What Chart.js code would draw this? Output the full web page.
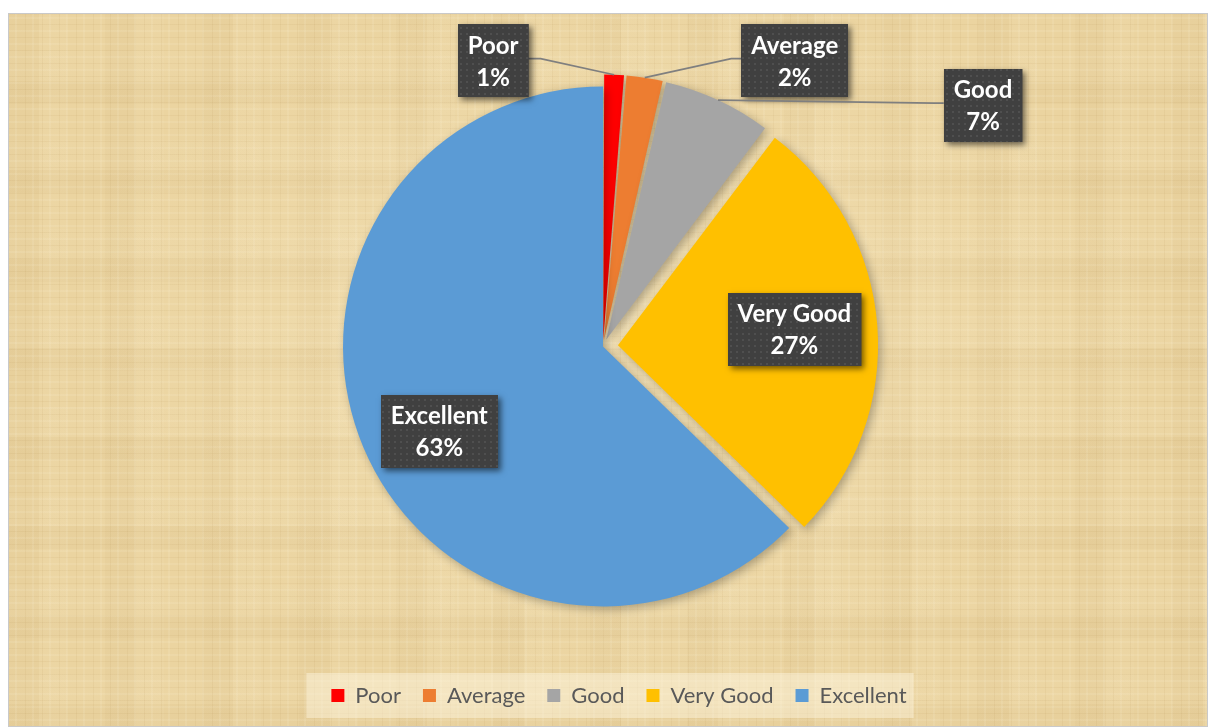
<!DOCTYPE html>
<html>
<head>
<meta charset="utf-8">
<script src="https://cdn.jsdelivr.net/npm/chart.js@4.4.0/dist/chart.umd.min.js"></script>
<style>
  html, body { margin: 0; padding: 0; background: #fff; }
  #frame {
    position: absolute; left: 8px; top: 13px; width: 1200px; height: 714px;
    background-color: #ebd4a0;
    background-image:
      radial-gradient(ellipse at 50% 45%, rgba(255,244,214,0.30), rgba(255,244,214,0) 65%),
      repeating-linear-gradient(90deg, rgba(160,120,55,0.07) 0 1px, rgba(0,0,0,0) 1px 7px, rgba(255,250,230,0.10) 7px 9px, rgba(0,0,0,0) 9px 17px),
      repeating-linear-gradient(0deg, rgba(160,120,55,0.07) 0 1px, rgba(0,0,0,0) 1px 6px, rgba(255,250,230,0.10) 6px 8px, rgba(0,0,0,0) 8px 13px),
      repeating-linear-gradient(90deg, rgba(150,110,50,0.035) 0 31px, rgba(255,250,230,0.045) 31px 59px, rgba(0,0,0,0) 59px 97px),
      repeating-linear-gradient(0deg, rgba(150,110,50,0.035) 0 23px, rgba(255,250,230,0.045) 23px 53px, rgba(0,0,0,0) 53px 89px);
    box-shadow: inset 0 0 0 1px #c9c9c9;
  }
  #frame canvas { display: block; }
</style>
</head>
<body>
<div id="frame"><canvas id="ratings" width="1200" height="714"></canvas></div>
<script>
const categories = ['Poor', 'Average', 'Good', 'Very Good', 'Excellent']
const shares = [1.3, 2.3, 6.7, 27.0, 62.7]
const sliceColors = ['#ff0000', '#ed7d31', '#a5a5a5', '#ffc000', '#5b9bd5']
// chart.js scales arc offsets down (offset/4, more for thin slices)
const sliceOffsets = [25, 26, 30, 60, 0]

// little dotted texture for the label boxes
const tile = document.createElement('canvas')
tile.width = 6; tile.height = 6
const tctx = tile.getContext('2d')
tctx.fillStyle = 'rgba(255,255,255,0.08)'
tctx.fillRect(2, 2, 2, 2)

// same shift that ArcElement.draw applies
function arcShift(offset, circumference) {
    const fix = 1 - Math.sin(Math.min(Math.PI, circumference || 0))
    return offset / 4 * (1 + fix)
}

const pieShadow = {
    id: 'pieShadow',
    beforeDatasetDraw(chart) {
        const ctx = chart.ctx
        ctx.save()
        ctx.shadowColor = 'rgba(0,0,0,0.28)'
        ctx.shadowBlur = 10
        ctx.shadowOffsetX = 3
        ctx.shadowOffsetY = 3
    },
    afterDatasetDraw(chart) {
        chart.ctx.restore()
    }
}

const legendBack = {
    id: 'legendBack',
    afterLayout(chart) {
        // legend sits a bit right of the pie centre
        chart.legend.left += 16
        chart.legend.right += 16
    },
    beforeDraw(chart) {
        const boxes = chart.legend.legendHitBoxes
        if (!boxes || !boxes.length) return
        const ctx = chart.ctx
        const left = Math.min(...boxes.map(b => b.left)) - 25
        const right = Math.max(...boxes.map(b => b.left + b.width)) + 7
        const mid = boxes[0].top + boxes[0].height / 2
        ctx.save()
        ctx.fillStyle = 'rgba(255,248,228,0.45)'
        ctx.fillRect(left, mid - 22.5, right - left, 45)
        ctx.restore()
    }
}

const sliceLabels = {
    id: 'sliceLabels',
    afterDatasetsDraw(chart, args, opts) {
        const ctx = chart.ctx
        const meta = chart.getDatasetMeta(0)
        const dots = ctx.createPattern(tile, 'repeat')
        ctx.save()
        ctx.font = 'bold 24px Lato'
        meta.data.forEach((arc, i) => {
            const p = arc.getProps(['x', 'y', 'startAngle', 'endAngle', 'outerRadius', 'circumference'], true)
            const mid = (p.startAngle + p.endAngle) / 2
            const off = arcShift(arc.options.offset, p.circumference)
            const cx = p.x + Math.cos(mid) * off
            const cy = p.y + Math.sin(mid) * off
            const place = opts.placement[i]
            const lines = [categories[i], Math.round(shares[i]) + '%']
            const w = Math.max(...lines.map(t => ctx.measureText(t).width)) + 20
            const h = 73
            let bx, by
            if (place.inside) {
                bx = cx + Math.cos(mid) * p.outerRadius * place.inside + (place.dx || 0)
                by = cy + Math.sin(mid) * p.outerRadius * place.inside + (place.dy || 0)
            } else {
                const ox = cx + Math.cos(mid) * p.outerRadius
                const oy = cy + Math.sin(mid) * p.outerRadius
                bx = ox + place.dx
                by = oy + place.dy
                const edge = place.dx < 0 ? bx + w / 2 : bx - w / 2
                const elbow = place.dx < 0 ? edge + 12 : edge - 10
                ctx.strokeStyle = '#7f7f7f'
                ctx.lineWidth = 1.75
                ctx.beginPath()
                ctx.moveTo(ox, oy)
                ctx.lineTo(elbow, by - 2)
                ctx.lineTo(edge, by - 2)
                ctx.stroke()
            }
            const x0 = Math.round(bx - w / 2), y0 = Math.round(by - h / 2)
            ctx.save()
            ctx.shadowColor = 'rgba(0,0,0,0.55)'
            ctx.shadowBlur = 6
            ctx.shadowOffsetX = 3
            ctx.shadowOffsetY = 3
            ctx.fillStyle = '#404040'
            ctx.fillRect(x0, y0, w, h)
            ctx.restore()
            ctx.fillStyle = dots
            ctx.fillRect(x0, y0, w, h)
            ctx.fillStyle = '#ffffff'
            ctx.textAlign = 'center'
            ctx.textBaseline = 'alphabetic'
            ctx.fillText(lines[0], bx, by - 7)
            ctx.fillText(lines[1], bx, by + 25)
        })
        ctx.restore()
    }
}

let ctx = document.getElementById('ratings').getContext('2d')
new Chart(ctx, {
    type: 'pie',
    data: {
        labels: categories,
        datasets: [{
            data: shares,
            backgroundColor: sliceColors,
            borderWidth: 0,
            offset: sliceOffsets,
            radius: 260
        }]
    },
    options: {
        responsive: false,
        animation: false,
        layout: {padding: {top: 17.5, bottom: 10.5, left: 0, right: 10}},
        plugins: {
            tooltip: {enabled: false},
            legend: {
                position: 'bottom',
                labels: {
                    boxWidth: 13,
                    boxHeight: 13,
                    padding: 22,
                    color: '#595959',
                    font: {family: 'Lato', size: 22}
                }
            },
            sliceLabels: {
                placement: [
                    {dx: -121, dy: -14},
                    {dx: 150, dy: -17},
                    {dx: 265, dy: 5},
                    {inside: 0.68, dy: -3},
                    {inside: 0.70, dx: 4, dy: 14}
                ]
            }
        }
    },
    plugins: [legendBack, pieShadow, sliceLabels]
})
</script>
</body>
</html>
